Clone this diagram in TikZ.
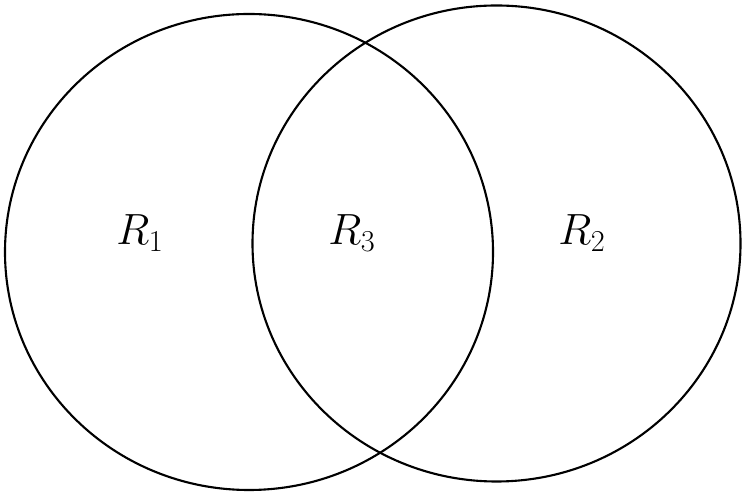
\documentclass[tikz,border=0pt]{standalone}
\begin{document}
\begin{tikzpicture}[x=0.02cm, y=0.02cm]
    \definecolor{borderColour}{HTML}{000000}

    \def\radiusX{244}
    \def\radiusY{238}

    \useasboundingbox (0,0) rectangle (746,496);

    \coordinate (L) at (249,244);
    \coordinate (R) at (496.5,252.5);

    \draw[draw=borderColour, line width=1.2pt] (L) ellipse ({\radiusX} and {\radiusY});
    \draw[draw=borderColour, line width=1.2pt] (R) ellipse ({\radiusX} and {\radiusY});

    \node (r1) at (140,263) {\fontsize{26}{30}\selectfont $R_1$};
    \node (r3) at (352,263) {\fontsize{26}{30}\selectfont $R_3$};
    \node (r2) at (582,263) {\fontsize{26}{30}\selectfont $R_2$};

\end{tikzpicture}
\end{document}
